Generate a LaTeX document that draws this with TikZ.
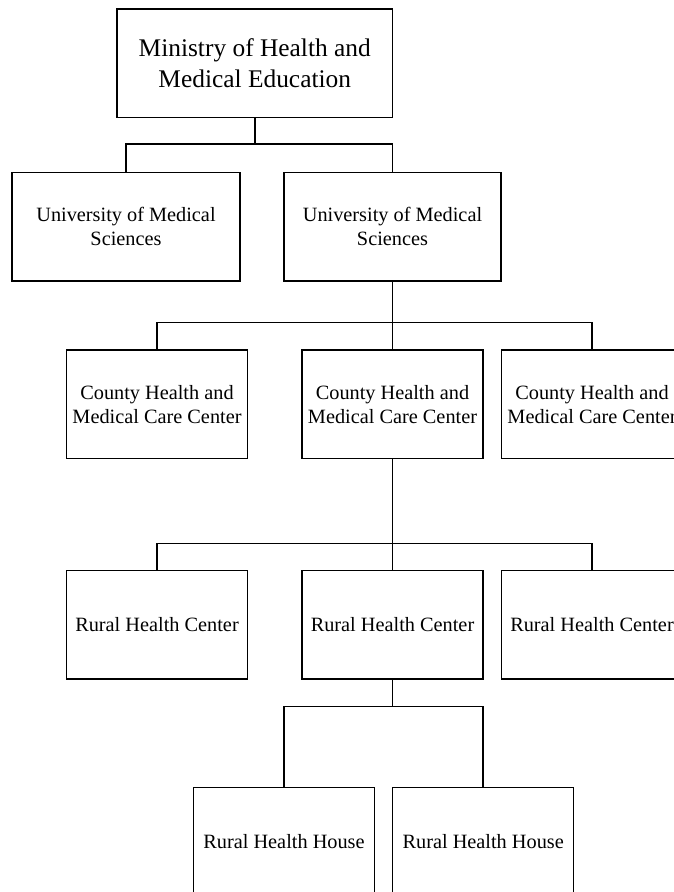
\documentclass[tikz,border=0pt]{standalone}
\usepackage{fontspec}
\setmainfont{Liberation Serif}
\tikzset{
  unitbox/.style={draw=black,line width=1.5pt,inner sep=0pt,align=center,
    minimum height=108.5pt,font=\fontsize{20.3}{24}\selectfont},
  link/.style={draw=black,line width=1.5pt}
}
\begin{document}
\begin{tikzpicture}[x=1pt,y=-1pt]
    \useasboundingbox (0,0) rectangle (674,892);
    \clip (0,0) rectangle (674,892);
    % ministry
    \node[unitbox,minimum width=275.5pt,font=\fontsize{25.4}{31}\selectfont]
      (ministry) at (254.75,63.0) {Ministry of Health and\\Medical Education};
    % universities
    \node[unitbox,minimum width=228pt] (univA) at (126.0,226.5)
      {University of Medical\\Sciences};
    \node[unitbox,minimum width=217pt] (univB) at (392.5,226.5)
      {University of Medical\\Sciences};
    % county centers
    \node[unitbox,minimum width=181pt] (countyA) at (157.0,404.3)
      {County Health and\\Medical Care Center};
    \node[unitbox,minimum width=181pt] (countyB) at (392.5,404.3)
      {County Health and\\Medical Care Center};
    \node[unitbox,minimum width=181pt] (countyC) at (592.0,404.3)
      {County Health and\\Medical Care Center};
    % rural centers
    \node[unitbox,minimum width=181pt] (ruralA) at (157.0,624.7) {Rural Health Center};
    \node[unitbox,minimum width=181pt] (ruralB) at (392.5,624.7) {Rural Health Center};
    \node[unitbox,minimum width=181pt] (ruralC) at (592.0,624.7) {Rural Health Center};
    % houses
    \node[unitbox,minimum width=181pt] (houseA) at (284.0,841.5) {Rural Health House};
    \node[unitbox,minimum width=181pt] (houseB) at (483.2,841.5) {Rural Health House};
    % forks
    \coordinate (forkA) at (254.75,144.0);
    \coordinate (forkB) at (392.5,322.7);
    \coordinate (forkC) at (392.5,543.3);
    \coordinate (forkD) at (392.5,706.3);
    \path[link] (ministry.south) -- (forkA);
    \path[link] (univA.north) |- (forkA) -| (univB.north);
    \path[link] (univB.south) -- (forkB) -- (countyB.north);
    \path[link] (countyA.north) |- (forkB) -| (countyC.north);
    \path[link] (countyB.south) -- (forkC) -- (ruralB.north);
    \path[link] (ruralA.north) |- (forkC) -| (ruralC.north);
    \path[link] (ruralB.south) -- (forkD);
    \path[link] (houseA.north) |- (forkD) -| (houseB.north);
\end{tikzpicture}
\end{document}
